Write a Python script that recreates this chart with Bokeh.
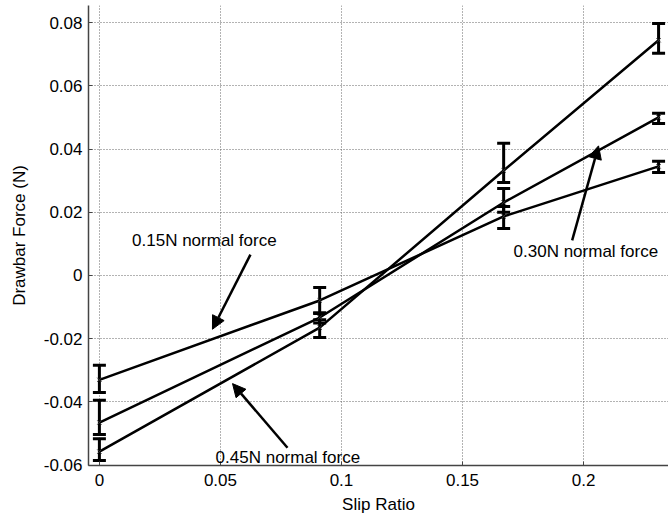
from bokeh.plotting import figure
from bokeh.models import (Range1d, FixedTicker, ColumnDataSource, Whisker, TeeHead,
                          Arrow, NormalHead, Label)
from bokeh.embed import file_html
from bokeh.resources import INLINE

slip = [0.0, 0.091, 0.167, 0.231]

f015 = [-0.0330, -0.0079, 0.0187, 0.0345]
f015_lo = [-0.0370, -0.0120, 0.0149, 0.0326]
f015_hi = [-0.0284, -0.0038, 0.0218, 0.0361]

f030 = [-0.0465, -0.0133, 0.0231, 0.0500]
f030_lo = [-0.0503, -0.0150, 0.0200, 0.0481]
f030_hi = [-0.0395, -0.0118, 0.0275, 0.0513]

f045 = [-0.0557, -0.0165, 0.0332, 0.0744]
f045_lo = [-0.0585, -0.0196, 0.0294, 0.0703]
f045_hi = [-0.0516, -0.0140, 0.0418, 0.0797]

x_ticks = [0, 0.05, 0.1, 0.15, 0.2]
x_labels = ["0", "0.05", "0.1", "0.15", "0.2"]
y_ticks = [-0.06, -0.04, -0.02, 0, 0.02, 0.04, 0.06, 0.08]
y_labels = ["-0.06", "-0.04", "-0.02", "0", "0.02", "0.04", "0.06", "0.08"]

annotations = [
    # text, text_x, text_y, arrow_x0, arrow_y0, arrow_x1, arrow_y1
    ("0.15N normal force", 0.0135, 0.0111, 0.0624, 0.0066, 0.0467, -0.0170),
    ("0.30N normal force", 0.1711, 0.0076, 0.1953, 0.0111, 0.2062, 0.0410),
    ("0.45N normal force", 0.0480, -0.0575, 0.0777, -0.0545, 0.0550, -0.0342),
]

FONT = "Liberation Sans"

p = figure(width=668, height=518, output_backend="svg", toolbar_location=None,
           x_range=Range1d(-0.0045, 0.2351), y_range=Range1d(-0.0601, 0.0854),
           min_border_left=88, min_border_right=0, min_border_top=5,
           min_border_bottom=53)
p.outline_line_color = None
p.background_fill_color = "white"

for ax in (p.xaxis[0], p.yaxis[0]):
    ax.major_label_text_font = FONT
    ax.major_label_text_font_size = "17px"
    ax.major_label_text_color = "black"
    ax.axis_label_text_font = FONT
    ax.axis_label_text_font_size = "17px"
    ax.axis_label_text_font_style = "normal"
    ax.axis_label_text_color = "black"
    ax.axis_line_color = "#444444"
    ax.axis_line_width = 1.5
    ax.major_tick_in = 4
    ax.major_tick_out = 0
    ax.minor_tick_line_color = None
    ax.major_tick_line_color = "#444444"

p.xaxis.ticker = FixedTicker(ticks=x_ticks)
p.xaxis.major_label_overrides = {t: l for t, l in zip(x_ticks, x_labels)}
p.yaxis.ticker = FixedTicker(ticks=y_ticks)
p.yaxis.major_label_overrides = {t: l for t, l in zip(y_ticks, y_labels)}
p.xaxis.axis_label = "Slip Ratio"
p.yaxis.axis_label = "Drawbar Force (N)"
p.xaxis.major_label_standoff = 8
p.xaxis.axis_label_standoff = 6
p.yaxis.major_label_standoff = 6
p.yaxis.axis_label_standoff = 12

for g in (p.xgrid[0], p.ygrid[0]):
    g.grid_line_color = "#666666"
    g.grid_line_dash = "1 2"
    g.grid_line_width = 1

for ys, lo, hi in ((f015, f015_lo, f015_hi), (f030, f030_lo, f030_hi), (f045, f045_lo, f045_hi)):
    src = ColumnDataSource(dict(x=slip, y=ys, lo=lo, hi=hi))
    p.line("x", "y", source=src, line_color="black", line_width=2.5)
    w = Whisker(source=src, base="x", lower="lo", upper="hi", dimension="height",
                line_color="black", line_width=3,
                upper_head=TeeHead(size=13, line_width=3, line_color="black"),
                lower_head=TeeHead(size=13, line_width=3, line_color="black"))
    p.add_layout(w)
    p.scatter("x", "y", source=src, marker="x", size=6, line_color="#333333", line_width=1)

for txt, tx, ty, ax0, ay0, ax1, ay1 in annotations:
    p.add_layout(Label(x=tx, y=ty, text=txt, text_font=FONT, text_font_size="17px",
                       text_color="black", text_baseline="middle", text_align="left"))
    p.add_layout(Arrow(x_start=ax0, y_start=ay0, x_end=ax1, y_end=ay1,
                       line_color="black", line_width=2.5,
                       end=NormalHead(size=13, fill_color="black", line_color="black", line_width=1)))

open("out.html", "w").write(file_html(p, INLINE))
